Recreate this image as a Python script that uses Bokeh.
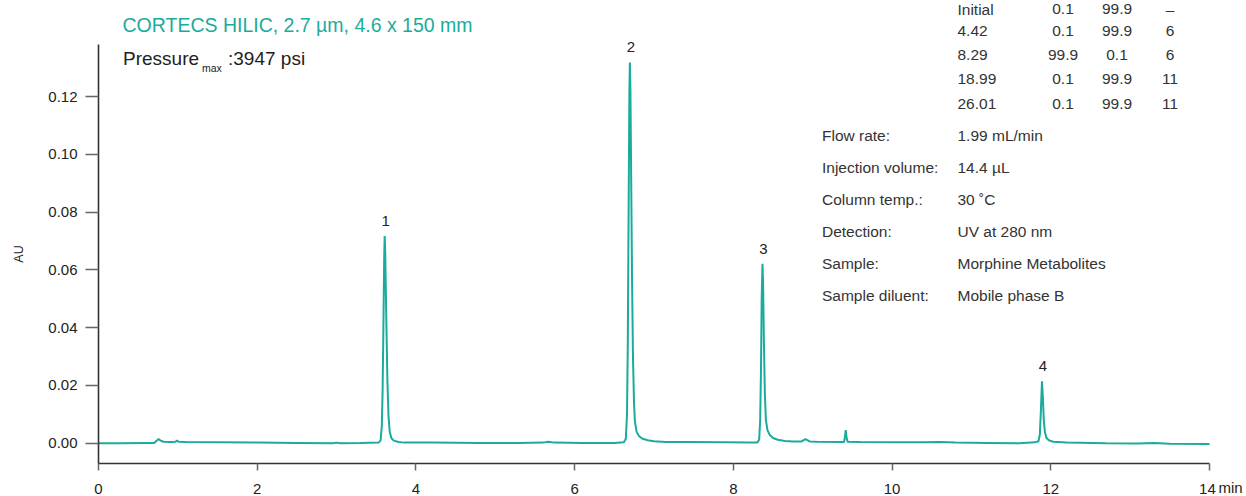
from bokeh.plotting import figure
from bokeh.models import Range1d, Label, FixedTicker, PrintfTickFormatter
from bokeh.embed import file_html
from bokeh.resources import INLINE

FONT = "Liberation Sans"
TEAL = "#1aab9c"
INK = "#222222"

# ---------------- data ----------------
time_min = [
    0.00, 0.30, 0.60, 0.70, 0.74, 0.757, 0.78, 0.82, 0.90, 0.97, 0.99, 1.01, 1.10,
    1.50, 2.00, 2.50, 2.95, 3.00, 3.05, 3.30,
    3.53, 3.555, 3.57, 3.58, 3.59, 3.60, 3.606, 3.613, 3.625, 3.64, 3.655, 3.67,
    3.69, 3.72, 3.78, 3.85,
    4.20, 4.80, 5.30, 5.60, 5.67, 5.74, 6.10, 6.50,
    6.62, 6.645, 6.66, 6.67, 6.68, 6.69, 6.696, 6.703, 6.713, 6.723, 6.735, 6.748,
    6.76, 6.78, 6.81, 6.85, 6.92, 7.00, 7.15,
    7.40, 7.90, 8.20,
    8.30, 8.325, 8.338, 8.348, 8.357, 8.367, 8.375, 8.385, 8.397, 8.41, 8.43, 8.46,
    8.50, 8.56, 8.65, 8.75,
    8.86, 8.91, 8.96, 9.05,
    9.395, 9.405, 9.416, 9.427, 9.44,
    9.60, 10.00, 10.40, 10.60, 10.80, 11.20, 11.60,
    11.80, 11.845, 11.862, 11.875, 11.889, 11.90, 11.912, 11.925, 11.945, 11.975, 12.03,
    12.20, 12.70, 13.10, 13.30, 13.50, 14.00,
]
absorbance_au = [
    0.0000, 0.0000, 0.0001, 0.0001, 0.0010, 0.0015, 0.0009, 0.0005, 0.0004, 0.0005, 0.0009, 0.0005, 0.0004,
    0.0003, 0.0002, 0.0001, 0.0000, 0.0002, 0.0000, 0.0001,
    0.0002, 0.0010, 0.0060, 0.0180, 0.0400, 0.0640, 0.0717, 0.0660, 0.0460, 0.0220, 0.0090, 0.0040,
    0.0018, 0.0009, 0.0004, 0.0002,
    0.0002, 0.0001, 0.0001, 0.0002, 0.0005, 0.0002, 0.0001, 0.0001,
    0.0003, 0.0015, 0.0100, 0.0350, 0.0800, 0.1220, 0.1318, 0.1220, 0.0900, 0.0580, 0.0300, 0.0140,
    0.0075, 0.0040, 0.0025, 0.0016, 0.0010, 0.0007, 0.0004,
    0.0004, 0.0003, 0.0002,
    0.0002, 0.0012, 0.0080, 0.0250, 0.0500, 0.0621, 0.0550, 0.0350, 0.0170, 0.0080, 0.0045, 0.0028,
    0.0018, 0.0012, 0.0008, 0.0006,
    0.0006, 0.0014, 0.0006, 0.0005,
    0.0004, 0.0020, 0.0045, 0.0018, 0.0005,
    0.0004, 0.0003, 0.0003, 0.0004, 0.0002, 0.0001, 0.0000,
    0.0003, 0.0007, 0.0030, 0.0110, 0.0214, 0.0160, 0.0080, 0.0040, 0.0019, 0.0010, 0.0005,
    0.0002, 0.0000, -0.0001, 0.0001, -0.0002, -0.0003,
]

peak_ids = ["1", "2", "3", "4"]
peak_times = [3.606, 6.696, 8.367, 11.889]
peak_heights = [0.0717, 0.1318, 0.0621, 0.0214]

x_ticks = [0, 2, 4, 6, 8, 10, 12, 14]
y_ticks = [0.00, 0.02, 0.04, 0.06, 0.08, 0.10, 0.12]
x_unit = "min"
y_title = "AU"

column_title = "CORTECS HILIC, 2.7 µm, 4.6 x 150 mm"
pressure_label = "Pressure"
pressure_sub = "max"
pressure_value = ":3947 psi"

gradient_time = ["Initial", "4.42", "8.29", "18.99", "26.01"]
gradient_a = ["0.1", "0.1", "99.9", "0.1", "0.1"]
gradient_b = ["99.9", "99.9", "0.1", "99.9", "99.9"]
gradient_curve = ["–", "6", "6", "11", "11"]

cond_names = ["Flow rate:", "Injection volume:", "Column temp.:", "Detection:",
              "Sample:", "Sample diluent:"]
cond_values = ["1.99 mL/min", "14.4 µL", "30 ˚C", "UV at 280 nm",
               "Morphine Metabolites", "Mobile phase B"]

# ---------------- layout (pixel geometry of the canvas) ----------------
W, H = 1246, 496
PX_X0, PX_X14 = 98.0, 1209.0      # pixel columns of t = 0 and t = 14
PX_Y0, PX_Y12 = 442.7, 96.0       # pixel rows of A = 0 and A = 0.12
XS = (PX_X14 - PX_X0) / 14.0
YS = (PX_Y0 - PX_Y12) / 0.12

def dx(px):
    return (px - PX_X0) / XS

def dy(py):
    return (PX_Y0 - py) / YS

p = figure(width=W, height=H, output_backend="svg", toolbar_location=None,
           x_range=Range1d(dx(0), dx(W)), y_range=Range1d(dy(H), dy(0)),
           min_border=0, min_border_left=0, min_border_right=0,
           min_border_top=0, min_border_bottom=0)
p.title.visible = False
p.outline_line_color = None
p.grid.visible = False
p.background_fill_color = "white"
p.border_fill_color = "white"

p.line(time_min, absorbance_au, line_color=TEAL, line_width=2)

AXIS_BOTTOM = dy(463.0)
AXIS_TOP = dy(44.3)

for ax in (p.xaxis[0], p.yaxis[0]):
    ax.axis_line_color = "#333333"
    ax.axis_line_width = 1.6
    ax.major_tick_line_color = "#666666"
    ax.major_tick_line_width = 1.5
    ax.major_tick_in = 0
    ax.minor_tick_line_color = None
    ax.major_label_text_font = FONT
    ax.major_label_text_font_size = "15px"
    ax.major_label_text_color = INK

p.xaxis.fixed_location = AXIS_BOTTOM
p.xaxis.bounds = (0, 14)
p.xaxis.ticker = FixedTicker(ticks=x_ticks)
p.xaxis.major_label_overrides = {14: "14\u00a0"}
p.xaxis.major_tick_out = 7
p.xaxis.major_label_standoff = 9

p.yaxis.fixed_location = 0
p.yaxis.bounds = (AXIS_BOTTOM, AXIS_TOP)
p.yaxis.ticker = FixedTicker(ticks=y_ticks)
p.yaxis.formatter = PrintfTickFormatter(format="%.2f")
p.yaxis.major_tick_out = 13
p.yaxis.major_label_standoff = 8
p.yaxis.axis_label = y_title
p.yaxis.axis_label_text_font = FONT
p.yaxis.axis_label_text_font_size = "12.5px"
p.yaxis.axis_label_text_font_style = "normal"
p.yaxis.axis_label_text_color = INK
p.yaxis.axis_label_standoff = 19

def add_label(text, px, py, size="15.5px", color="#333333", align="left"):
    p.add_layout(Label(x=dx(px), y=dy(py), text=text, text_font=FONT,
                       text_font_size=size, text_color=color, text_align=align,
                       text_baseline="middle"))

# unit after the last x tick
add_label(x_unit, 1218, 486.5, size="15px", color=INK)

# title and pressure
add_label(column_title, 122, 24.5, size="19.5px", color=TEAL)
add_label(pressure_label, 122.5, 57.5, size="19px", color=INK)
add_label(pressure_sub, 201.5, 67.5, size="10.5px", color=INK)
add_label(pressure_value, 227.5, 57.5, size="19px", color=INK)

# peak labels
for pid, t, h in zip(peak_ids, peak_times, peak_heights):
    p.add_layout(Label(x=t, y=h, x_offset=1, y_offset=15, text=pid, text_font=FONT,
                       text_font_size="15px", text_color=INK, text_align="center",
                       text_baseline="middle"))

# gradient table
for i in range(len(gradient_time)):
    mid = max(8.5, 6.5 + 24.15 * i)
    add_label(gradient_time[i], 957, mid)
    add_label(gradient_a[i], 1062.5, mid, align="center")
    add_label(gradient_b[i], 1116.5, mid, align="center")
    add_label(gradient_curve[i], 1169.5, mid, align="center")

# method conditions
for i, (n, v) in enumerate(zip(cond_names, cond_values)):
    mid = 135 + 31.9 * i
    add_label(n, 821.5, mid)
    add_label(v, 957, mid)

open("out.html", "w").write(file_html(p, INLINE))
